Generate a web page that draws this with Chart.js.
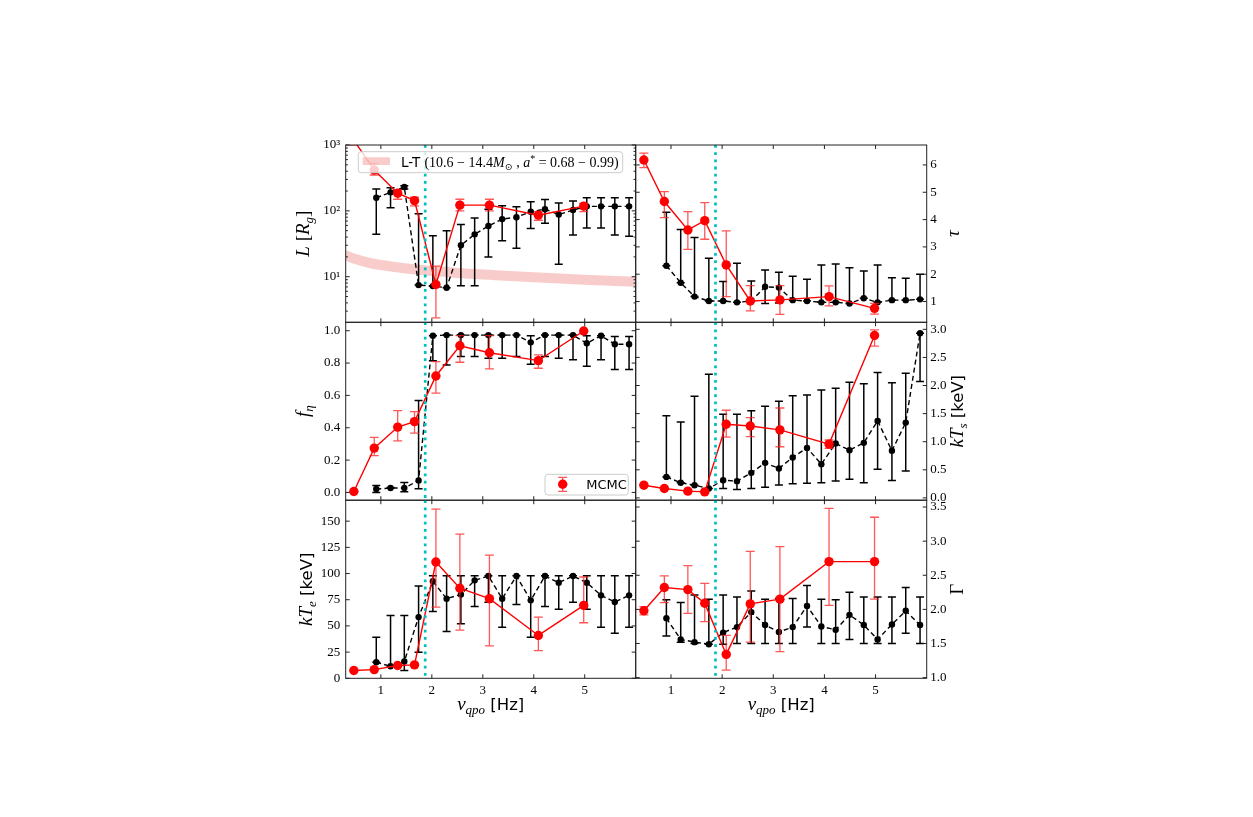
<!DOCTYPE html>
<html>
<head>
<meta charset="utf-8">
<script src="https://cdn.jsdelivr.net/npm/chart.js@4.4.1/dist/chart.umd.min.js"></script>
<style>
  html, body { margin: 0; padding: 0; background: #fff; }
  #wrap { position: relative; width: 1253px; height: 817px; }
  .layer { position: absolute; left: 0; top: 0; width: 1253px; height: 817px; }
</style>
</head>
<body>
<div id="wrap"></div>
<script>
// QPO frequencies (Hz)
const nuBlack = [0.91, 1.19, 1.46, 1.74, 2.02, 2.29, 2.57, 2.84, 3.11, 3.38, 3.66, 3.94, 4.22, 4.49, 4.77, 5.04, 5.32, 5.59, 5.87];
const nuRed = [0.47, 0.87, 1.33, 1.66, 2.08, 2.55, 3.13, 4.09, 4.98];
const nuCut = 1.87;
const nuTicks = [1, 2, 3, 4, 5];
const nuRange = [0.31, 6.0];

// L [Rg]
const L_black    = [158, 191, 230, 7.45, 7.2, 6.8, 30, 44, 59, 75, 80, 97, 106, 88, 103, 117, 117, 117, 117];
const L_black_lo = [44, 111, 215, 7.45, 7.2, 6.8, 7.3, 7.3, 20, 35, 27, 54, 65, 15.5, 43, 55, 55, 43, 41];
const L_black_hi = [214, 224, 240, 90, 42, 50, 62, 78, 106, 119, 115, 138, 149, 132, 141, 158, 158, 158, 158];
const L_red    = [1180, 417, 185, 143, 7.6, 122, 122, 86, 118];
const L_red_lo = [1000, 350, 150, 119, 2.37, 100, 100, 72, 97];
const L_red_hi = [1400, 525, 207, 162, 14.5, 150, 150, 97, 130];
// Lense-Thirring band
const nuLT = [0.25, 0.5, 0.8, 1.2, 1.8, 2.5, 3.2, 4.0, 5.0, 6.1];
const LT   = [22.0, 18.5, 16.0, 14.3, 12.6, 11.4, 10.6, 9.8, 9.0, 8.3];

// tau
const tau_black    = [2.31, 1.69, 1.18, 1.02, 1.02, 0.97, 1.02, 1.54, 1.51, 1.05, 1.02, 0.97, 0.97, 0.93, 1.12, 0.97, 1.05, 1.05, 1.08];
const tau_black_lo = [2.31, 1.69, 1.18, 1.02, 1.02, 0.97, 1.02, 0.93, 0.95, 1.05, 1.02, 0.97, 0.97, 0.93, 1.12, 0.97, 1.05, 1.05, 1.08];
const tau_black_hi = [4.27, 3.64, 3.34, 2.58, 1.73, 2.40, 1.75, 2.15, 2.07, 1.93, 1.82, 2.34, 2.37, 2.24, 2.12, 2.34, 1.87, 1.85, 2.00];
const tau_red    = [6.18, 4.66, 3.62, 3.96, 2.34, 1.02, 1.06, 1.18, 0.75];
const tau_red_lo = [5.90, 4.07, 2.91, 3.28, 1.18, 0.66, 0.53, 0.84, 0.54];
const tau_red_hi = [6.43, 5.02, 4.29, 4.62, 3.59, 1.58, 1.58, 1.57, 0.93];

// f_eta
const feta_black    = [0.021, 0.027, 0.027, 0.074, 0.969, 0.973, 0.973, 0.973, 0.973, 0.973, 0.973, 0.928, 0.973, 0.973, 0.973, 0.922, 0.969, 0.916, 0.916];
const feta_black_lo = [0.0, 0.027, 0.004, 0.023, 0.815, 0.788, 0.84, 0.84, 0.83, 0.83, 0.84, 0.793, 0.84, 0.83, 0.82, 0.78, 0.82, 0.76, 0.76];
const feta_black_hi = [0.043, 0.030, 0.061, 0.568, 0.969, 0.973, 0.973, 0.973, 0.973, 0.973, 0.973, 0.969, 0.973, 0.973, 0.973, 0.969, 0.969, 0.964, 0.964];
const feta_red    = [0.006, 0.274, 0.404, 0.438, 0.72, 0.907, 0.864, 0.815, 0.998];
const feta_red_lo = [0.006, 0.228, 0.319, 0.367, 0.614, 0.805, 0.764, 0.768, 0.998];
const feta_red_hi = [0.006, 0.340, 0.506, 0.500, 0.809, 0.969, 0.969, 0.850, 0.998];

// kT_s [keV]
const kTs_black    = [0.374, 0.27, 0.226, 0.167, 0.315, 0.298, 0.446, 0.624, 0.524, 0.72, 0.89, 0.60, 0.97, 0.85, 0.98, 1.37, 0.84, 1.34, 2.93];
const kTs_black_lo = [0.374, 0.27, 0.226, 0.167, 0.167, 0.15, 0.167, 0.19, 0.23, 0.25, 0.26, 0.27, 0.30, 0.33, 0.27, 0.51, 0.31, 0.48, 2.07];
const kTs_black_hi = [1.46, 1.35, 1.81, 2.20, 1.49, 1.49, 1.55, 1.63, 1.72, 1.82, 1.83, 1.92, 1.95, 2.06, 2.03, 2.23, 2.05, 2.22, 2.93];
const kTs_red    = [0.226, 0.167, 0.12, 0.107, 1.31, 1.28, 1.21, 0.957, 2.89];
const kTs_red_lo = [0.226, 0.167, 0.12, 0.107, 1.08, 1.09, 0.91, 0.88, 2.70];
const kTs_red_hi = [0.226, 0.167, 0.12, 0.107, 1.56, 1.43, 1.60, 1.03, 2.99];

// kT_e [keV]
const kTe_black    = [15.3, 11.5, 16, 58.4, 92.6, 76, 80, 93.5, 97.6, 76, 97.6, 74.4, 97.6, 91.3, 97.6, 91.3, 79.2, 72.8, 79.2];
const kTe_black_lo = [15.3, 11.5, 7.4, 24.9, 63.8, 44.7, 52, 68.6, 72.7, 48.8, 70.5, 39.2, 68.6, 66, 72.7, 66, 48.8, 42.9, 48.8];
const kTe_black_hi = [39.2, 60, 60, 88, 98, 98, 98, 98, 98, 98, 98, 98, 98, 98, 98, 98, 98, 98, 98];
const kTe_red    = [7.4, 8.3, 12.2, 12.8, 111, 86, 76, 40.9, 69.6];
const kTe_red_lo = [7.4, 8.3, 12.2, 12.8, 68, 46, 31, 26.5, 53];
const kTe_red_hi = [7.4, 8.3, 12.2, 12.8, 161.5, 137.6, 117.5, 58.4, 96.7];

// Gamma
const gam_black    = [1.87, 1.56, 1.52, 1.49, 1.66, 1.74, 1.96, 1.77, 1.67, 1.74, 2.05, 1.75, 1.70, 1.92, 1.77, 1.56, 1.78, 1.98, 1.77];
const gam_black_lo = [1.61, 1.52, 1.50, 1.49, 1.49, 1.50, 1.50, 1.50, 1.50, 1.50, 1.74, 1.50, 1.50, 1.56, 1.50, 1.50, 1.50, 1.65, 1.50];
const gam_black_hi = [2.14, 2.10, 2.21, 2.15, 2.21, 2.18, 2.27, 2.15, 2.16, 2.16, 2.35, 2.15, 2.14, 2.25, 2.18, 2.18, 2.18, 2.32, 2.18];
const gam_red    = [1.98, 2.32, 2.29, 2.09, 1.34, 2.08, 2.15, 2.70, 2.70];
const gam_red_lo = [1.92, 2.10, 1.94, 1.82, 1.11, 1.52, 1.38, 2.06, 2.15];
const gam_red_hi = [2.04, 2.49, 2.64, 2.38, 1.62, 2.85, 2.92, 3.48, 3.35];

// Layout (page pixels)
const W = 1253, H = 817;
const cols = [[345.7, 635.7], [635.7, 926.7]];
const rows = [[145, 322.3], [322.3, 500.2], [500.2, 678.3]];
const YW = 40, XH = 30;

const SERIF = '"Liberation Serif", "DejaVu Serif", serif';
const SANS = '"DejaVu Sans", sans-serif';
const IT = 'italic 19px ' + SERIF;
const RM = '19px ' + SERIF;
const SUB = 'italic 13px ' + SERIF;
const SF = '16.5px ' + SANS;
const BAND = 'rgba(240,128,128,0.4)';
const RED = '#ff0000';

const pts = (xs, ys) => xs.map((x, i) => ({ x: x, y: ys[i] }));

// horizontal text centred at (cx, cy)
function drawRuns(ctx, runs, cx, cy, size) {
  ctx.save();
  let total = 0;
  runs.forEach(r => { ctx.font = r[1]; total += ctx.measureText(r[0]).width; });
  let x = cx - total / 2;
  ctx.fillStyle = '#000';
  ctx.textBaseline = 'alphabetic';
  runs.forEach(r => {
    ctx.font = r[1];
    ctx.fillText(r[0], x, cy + size * 0.35 + (r[2] || 0));
    x += ctx.measureText(r[0]).width;
  });
  ctx.restore();
}

// rotated y title: ink box aligned to edgeX (right edge for left side, left edge for right side)
function drawYTitle(ctx, runs, edgeX, cy, side) {
  ctx.save();
  let total = 0, asc = 0, desc = 0;
  runs.forEach(r => {
    ctx.font = r[1];
    const m = ctx.measureText(r[0]);
    total += m.width;
    asc = Math.max(asc, m.actualBoundingBoxAscent - (r[2] || 0));
    desc = Math.max(desc, m.actualBoundingBoxDescent + (r[2] || 0));
  });
  const bx = side === 'left' ? edgeX - desc : edgeX + asc;
  ctx.translate(bx, cy);
  ctx.rotate(-Math.PI / 2);
  ctx.fillStyle = '#000';
  ctx.textBaseline = 'alphabetic';
  let x = -total / 2;
  runs.forEach(r => {
    ctx.font = r[1];
    ctx.fillText(r[0], x, r[2] || 0);
    x += ctx.measureText(r[0]).width;
  });
  ctx.restore();
}

function drawErrors(chart, ds) {
  const { ctx, chartArea: ca } = chart;
  const xs = chart.scales.x, ys = chart.scales.y;
  ctx.save();
  ctx.beginPath();
  ctx.rect(ca.left, ca.top, ca.right - ca.left, ca.bottom - ca.top);
  ctx.clip();
  ctx.strokeStyle = ds.errColor;
  ctx.lineWidth = ds.errWidth;
  ds.data.forEach((p, i) => {
    const px = xs.getPixelForValue(p.x);
    const y1 = ys.getPixelForValue(ds.errLo[i]);
    const y2 = ys.getPixelForValue(ds.errHi[i]);
    ctx.beginPath();
    ctx.moveTo(px, y1); ctx.lineTo(px, y2);
    ctx.moveTo(px - ds.capW, y1); ctx.lineTo(px + ds.capW, y1);
    ctx.moveTo(px - ds.capW, y2); ctx.lineTo(px + ds.capW, y2);
    ctx.stroke();
  });
  ctx.restore();
}

function drawLTLegend(ctx, ca) {
  const x0 = ca.left + 12.6, y0 = ca.top + 6.7;
  ctx.save();
  ctx.fillStyle = 'rgba(255,255,255,0.8)';
  ctx.strokeStyle = '#cccccc';
  ctx.lineWidth = 1;
  ctx.beginPath();
  ctx.roundRect(x0, y0, 264.4, 21, 3);
  ctx.fill(); ctx.stroke();
  ctx.fillStyle = BAND;
  ctx.fillRect(x0 + 4.4, y0 + 5.6, 27.3, 7.7);
  ctx.fillStyle = '#000';
  ctx.textBaseline = 'alphabetic';
  const runs = [
    ['L-T ', '13.5px ' + SANS, 0],
    ['(10.6 \u2212 14.4', '14px ' + SERIF, 0],
    ['M', 'italic 14px ' + SERIF, 0],
    ['\u2299', '9.5px ' + SERIF, 3],
    [' , ', '14px ' + SERIF, 0],
    ['a', 'italic 14px ' + SERIF, 0],
    ['*', '10px ' + SERIF, -5],
    [' = 0.68 \u2212 0.99)', '14px ' + SERIF, 0]
  ];
  let x = x0 + 42.7;
  runs.forEach(r => {
    ctx.font = r[1];
    ctx.fillText(r[0], x, y0 + 15.2 + r[2]);
    x += ctx.measureText(r[0]).width;
  });
  ctx.restore();
}

function drawMCMCLegend(ctx, ca) {
  const x0 = ca.right - 90.7, y0 = ca.bottom - 25.9;
  ctx.save();
  ctx.fillStyle = 'rgba(255,255,255,0.8)';
  ctx.strokeStyle = '#cccccc';
  ctx.lineWidth = 1;
  ctx.beginPath();
  ctx.roundRect(x0, y0, 83.3, 20.7, 3);
  ctx.fill(); ctx.stroke();
  const mx = x0 + 17.7, my = y0 + 10;
  ctx.strokeStyle = 'rgba(255,30,30,0.75)';
  ctx.lineWidth = 1.3;
  ctx.beginPath();
  ctx.moveTo(mx, my - 7); ctx.lineTo(mx, my + 7);
  ctx.moveTo(mx - 4.5, my - 7); ctx.lineTo(mx + 4.5, my - 7);
  ctx.moveTo(mx - 4.5, my + 7); ctx.lineTo(mx + 4.5, my + 7);
  ctx.stroke();
  ctx.fillStyle = RED;
  ctx.beginPath(); ctx.arc(mx, my, 4.7, 0, Math.PI * 2); ctx.fill();
  ctx.fillStyle = '#000';
  ctx.font = '13px ' + SANS;
  ctx.textBaseline = 'alphabetic';
  ctx.fillText('MCMC', x0 + 41.2, y0 + 14.8);
  ctx.restore();
}

function panelPlugin(p) {
  return {
    id: 'panel_' + p.id,
    beforeDatasetDraw(chart, args) {
      const ds = chart.data.datasets[args.index];
      if (ds.errLo) drawErrors(chart, ds);
    },
    afterDatasetsDraw(chart) {
      const { ctx, chartArea: ca } = chart;
      const cx = chart.scales.x.getPixelForValue(nuCut);
      ctx.save();
      ctx.strokeStyle = '#00bfbf';
      ctx.lineWidth = 2.7;
      ctx.setLineDash([2.8, 4.4]);
      ctx.beginPath();
      ctx.moveTo(cx, ca.top); ctx.lineTo(cx, ca.bottom);
      ctx.stroke();
      ctx.restore();
    },
    afterDraw(chart) {
      const { ctx, chartArea: ca } = chart;
      const xs = chart.scales.x, ys = chart.scales.y;
      ctx.save();
      ctx.strokeStyle = '#222';
      ctx.lineWidth = 1;
      // inward ticks
      ctx.beginPath();
      nuTicks.forEach(v => {
        const px = xs.getPixelForValue(v);
        ctx.moveTo(px, ca.bottom); ctx.lineTo(px, ca.bottom - 4);
        ctx.moveTo(px, ca.top); ctx.lineTo(px, ca.top + 4);
      });
      p.yTicks.forEach(v => {
        const py = ys.getPixelForValue(v);
        ctx.moveTo(ca.left, py); ctx.lineTo(ca.left + 4, py);
        ctx.moveTo(ca.right, py); ctx.lineTo(ca.right - 4, py);
      });
      (p.yMinor || []).forEach(v => {
        const py = ys.getPixelForValue(v);
        ctx.moveTo(ca.left, py); ctx.lineTo(ca.left + 2.2, py);
        ctx.moveTo(ca.right, py); ctx.lineTo(ca.right - 2.2, py);
      });
      ctx.stroke();
      ctx.strokeRect(ca.left, ca.top, ca.right - ca.left, ca.bottom - ca.top);
      ctx.restore();
      // axis titles
      if (p.col === 0) drawYTitle(ctx, p.title, 315.5, (ca.top + ca.bottom) / 2, 'left');
      else drawYTitle(ctx, p.title, 950, (ca.top + ca.bottom) / 2, 'right');
      if (p.row === 2) {
        drawRuns(ctx, [['\u03bd', IT], ['qpo', SUB, 4], [' [Hz]', SF]], (ca.left + ca.right) / 2, 703, 19);
      }
      if (p.legend === 'lt') drawLTLegend(ctx, ca);
      if (p.legend === 'mcmc') drawMCMCLegend(ctx, ca);
    }
  };
}

function makePanel(p) {
  const [cl, cr] = cols[p.col];
  const [rt, rb] = rows[p.row];
  const side = p.col === 0 ? 'left' : 'right';
  const layer = document.createElement('div');
  layer.className = 'layer';
  const canvas = document.createElement('canvas');
  layer.appendChild(canvas);
  document.getElementById('wrap').appendChild(layer);

  const datasets = [];
  if (p.band) {
    datasets.push({
      data: pts(nuLT, LT),
      showLine: true,
      borderColor: BAND,
      borderWidth: 10,
      pointRadius: 0,
      cubicInterpolationMode: 'monotone',
      clip: 0,
      order: 3
    });
  }
  datasets.push({
    data: pts(nuBlack, p.black[0]),
    errLo: p.black[1], errHi: p.black[2],
    errColor: '#000', errWidth: 1.5, capW: 4,
    showLine: true,
    borderColor: '#000',
    borderWidth: 1.4,
    borderDash: [5, 3.2],
    pointRadius: 3.2,
    pointBackgroundColor: '#000',
    pointBorderWidth: 0,
    clip: 0,
    order: 2
  });
  datasets.push({
    data: pts(nuRed, p.red[0]),
    errLo: p.red[1], errHi: p.red[2],
    errColor: 'rgba(255,30,30,0.75)', errWidth: 1.3, capW: 4.5,
    showLine: true,
    borderColor: RED,
    borderWidth: 1.4,
    pointRadius: 4.7,
    pointBackgroundColor: RED,
    pointBorderWidth: 0,
    clip: 0,
    order: 1
  });

  new Chart(canvas, {
    type: 'scatter',
    data: { datasets: datasets },
    options: {
      responsive: true,
      maintainAspectRatio: false,
      animation: false,
      events: [],
      layout: {
        padding: {
          left: side === 'left' ? cl - YW : cl,
          right: side === 'right' ? W - cr - YW : W - cr,
          top: rt,
          bottom: H - rb - XH
        }
      },
      plugins: { legend: { display: false }, tooltip: { enabled: false } },
      scales: {
        x: {
          type: 'linear',
          position: 'bottom',
          min: nuRange[0], max: nuRange[1],
          afterBuildTicks: s => { s.ticks = nuTicks.map(v => ({ value: v })); },
          afterFit: s => { s.height = XH; },
          grid: { display: false, drawTicks: false },
          border: { display: false },
          ticks: {
            display: p.row === 2,
            autoSkip: false, maxRotation: 0, padding: 4,
            color: '#000',
            font: { family: SERIF, size: 13 },
            callback: v => String(v)
          }
        },
        y: {
          type: p.yType,
          position: side,
          min: p.yRange[0], max: p.yRange[1],
          afterBuildTicks: s => { s.ticks = p.yTicks.map(v => ({ value: v })); },
          afterFit: s => { s.width = YW; },
          grid: { display: false, drawTicks: false },
          border: { display: false },
          ticks: {
            autoSkip: false, padding: side === 'left' ? 5.5 : 3.5,
            color: '#000',
            font: { family: SERIF, size: 13 },
            callback: p.fmt
          }
        }
      }
    },
    plugins: [panelPlugin(p)]
  });
}

const logMinor = [];
[1, 10, 100].forEach(d => { for (let m = 2; m <= 9; m++) { if (d * m > 2.03) logMinor.push(d * m); } });

const panels = [
  { id: 'L', col: 0, row: 0, yType: 'logarithmic', yRange: [2.03, 1000],
    yTicks: [10, 100, 1000], yMinor: logMinor,
    fmt: v => ({ 10: '10\u00b9', 100: '10\u00b2', 1000: '10\u00b3' })[v] || '',
    black: [L_black, L_black_lo, L_black_hi], red: [L_red, L_red_lo, L_red_hi],
    title: [['L', IT], [' [', RM], ['R', IT], ['g', SUB, 4], [']', RM]],
    band: true, legend: 'lt' },
  { id: 'tau', col: 1, row: 0, yType: 'linear', yRange: [0.24, 6.73],
    yTicks: [1, 2, 3, 4, 5, 6], fmt: v => String(v),
    black: [tau_black, tau_black_lo, tau_black_hi], red: [tau_red, tau_red_lo, tau_red_hi],
    title: [['\u03c4', IT]] },
  { id: 'feta', col: 0, row: 1, yType: 'linear', yRange: [-0.048, 1.052],
    yTicks: [0, 0.2, 0.4, 0.6, 0.8, 1.0], fmt: v => v.toFixed(1),
    black: [feta_black, feta_black_lo, feta_black_hi], red: [feta_red, feta_red_lo, feta_red_hi],
    title: [['f', IT], ['\u03b7', SUB, 4]], legend: 'mcmc' },
  { id: 'kTs', col: 1, row: 1, yType: 'linear', yRange: [-0.041, 3.125],
    yTicks: [0, 0.5, 1.0, 1.5, 2.0, 2.5, 3.0], fmt: v => v.toFixed(1),
    black: [kTs_black, kTs_black_lo, kTs_black_hi], red: [kTs_red, kTs_red_lo, kTs_red_hi],
    title: [['kT', IT], ['s', SUB, 4], [' [keV]', SF]] },
  { id: 'kTe', col: 0, row: 2, yType: 'linear', yRange: [0, 170],
    yTicks: [0, 25, 50, 75, 100, 125, 150], fmt: v => String(v),
    black: [kTe_black, kTe_black_lo, kTe_black_hi], red: [kTe_red, kTe_red_lo, kTe_red_hi],
    title: [['kT', IT], ['e', SUB, 4], [' [keV]', SF]] },
  { id: 'gam', col: 1, row: 2, yType: 'linear', yRange: [0.99, 3.6],
    yTicks: [1.0, 1.5, 2.0, 2.5, 3.0, 3.5], fmt: v => v.toFixed(1),
    black: [gam_black, gam_black_lo, gam_black_hi], red: [gam_red, gam_red_lo, gam_red_hi],
    title: [['\u0393', RM]] }
];

panels.forEach(makePanel);
</script>
</body>
</html>
